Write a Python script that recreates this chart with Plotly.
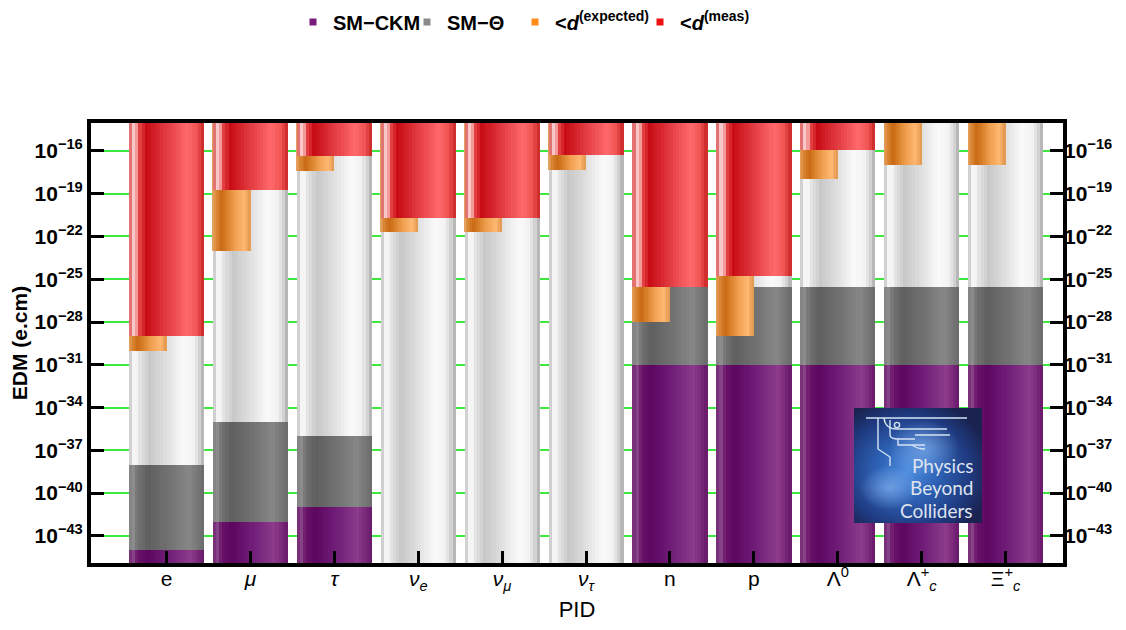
import base64
import plotly.graph_objects as go

# ---------------- data ----------------
categories = ["e", "mu", "tau", "nu_e", "nu_mu", "nu_tau", "n", "p", "Lambda0", "Lambda_c+", "Xi_c+"]
tick_labels = ["e", "<i>μ</i>", "<i>τ</i>", "<i>ν</i><sub><i>e</i></sub>", "<i>ν</i><sub><i>μ</i></sub>",
               "<i>ν</i><sub><i>τ</i></sub>", "n", "p", "Λ<sup>0</sup>", "Λ<sup>+</sup><sub><i>c</i></sub>",
               "Ξ<sup>+</sup><sub><i>c</i></sub>"]
sm_ckm = [1e-44, 1e-42, 1e-41, None, None, None, 1e-31, 1e-31, 1e-31, 1e-31, 1e-31]
sm_theta = [1e-38, 1e-35, 1e-36, None, None, None, 3e-26, 3e-26, 3e-26, 3e-26, 3e-26]
d_meas = [1.1e-29, 1.8e-19, 4.5e-17, 2.1e-21, 2.1e-21, 5.2e-17, 3e-26, 1.8e-25, 1.2e-16, None, None]
d_expected = [1e-30, 1e-23, 4e-18, 2.1e-22, 2.1e-22, 4.7e-18, 1e-28, 1e-29, 1e-18, 1e-17, 1e-17]
ytick_vals = [1e-16, 1e-19, 1e-22, 1e-25, 1e-28, 1e-31, 1e-34, 1e-37, 1e-40, 1e-43]
ytick_text = ["<b>10<sup>−%d</sup></b>" % e for e in [16, 19, 22, 25, 28, 31, 34, 37, 40, 43]]
legend_names = ["<b>SM−CKM</b>", "<b>SM−Θ</b>", "<b>&lt;<i>d</i><sup>(expected)</sup></b>",
                "<b>&lt;<i>d</i><sup>(meas)</sup></b>"]

# ---------------- style ----------------
PAGE_OFF = 8                          # default body margin of the html page
Y_LOW, Y_HIGH = 1e-47, 1e-12          # bar extents beyond the visible range
YRANGE = [-44.9, -14.04]
XRANGE = [-0.9, 10.685]
BAR_W = 0.894
NSTRIP = 24
FONT = "Liberation Sans, Arial, sans-serif"
legend_colors = ["#7a1a7a", "#8a8a8a", "#ff8c1a", "#ee1111"]
legend_text_x = [333, 447, 555, 680]   # pixel position of each legend label

silver = [(0, "#b0b0b0"), (0.035, "#e6e6e6"), (0.08, "#ffffff"), (0.14, "#e4e4e4"), (0.27, "#c8c8c8"),
          (0.5, "#e0e0e0"), (0.72, "#fafafa"), (0.86, "#f2f2f2"), (0.95, "#cdcdcd"), (1, "#a8a8a8")]
red = [(0, "#d03838"), (0.035, "#f09a9a"), (0.08, "#ffe4e4"), (0.13, "#e84848"), (0.23, "#c80c16"),
       (0.5, "#e23c42"), (0.78, "#ff6a6c"), (0.9, "#f25454"), (1, "#c82424")]
orange = [(0, "#e8a868"), (0.08, "#dc8a3c"), (0.25, "#c96a12"), (0.6, "#f0a050"), (0.85, "#ffb872"), (1, "#e2964e")]
grey = [(0, "#7c7c7c"), (0.05, "#929292"), (0.12, "#727272"), (0.25, "#5f5f5f"), (0.55, "#737373"),
        (0.8, "#878787"), (1, "#6a6a6a")]
purple = [(0, "#6c1c6c"), (0.05, "#8c4c8c"), (0.12, "#6a126a"), (0.25, "#5c0660"), (0.55, "#72207a"),
          (0.82, "#8c3c8a"), (1, "#681868")]


def hex2rgb(h):
    h = h.lstrip("#")
    return tuple(int(h[i:i + 2], 16) for i in (0, 2, 4))


def shade(stops, t):
    for (t0, c0), (t1, c1) in zip(stops[:-1], stops[1:]):
        if t0 <= t <= t1:
            a = (t - t0) / (t1 - t0) if t1 > t0 else 0
            r0, r1 = hex2rgb(c0), hex2rgb(c1)
            return "rgb(%d,%d,%d)" % tuple(round(r0[i] + (r1[i] - r0[i]) * a) for i in range(3))
    return stops[-1][1]


fig = go.Figure()


def add_layer(lengths, bases, stops, width_frac=1.0):
    w_total = BAR_W * width_frac
    sw = w_total / NSTRIP
    for k in range(NSTRIP):
        t = (k + 0.5) / NSTRIP
        fig.add_trace(go.Bar(
            x=categories, y=lengths, base=bases,
            width=sw * 1.06, offset=-BAR_W / 2 + k * sw,
            marker=dict(color=shade(stops, t), line=dict(width=0)),
            showlegend=False, hoverinfo="skip"))


n = len(categories)
add_layer([Y_HIGH - Y_LOW] * n, [Y_LOW] * n, silver)
add_layer([None if v is None else v - Y_LOW for v in sm_theta],
          [None if v is None else Y_LOW for v in sm_theta], grey)
add_layer([None if v is None else v - Y_LOW for v in sm_ckm],
          [None if v is None else Y_LOW for v in sm_ckm], purple)
add_layer([None if v is None else Y_HIGH - v for v in d_expected], d_expected, orange, width_frac=0.5)
add_layer([None if v is None else Y_HIGH - v for v in d_meas], d_meas, red)

# legend proxies, each in its own legend so positions can follow the reference
legend_ids = ["legend", "legend2", "legend3", "legend4"]
for name, col, lid in zip(legend_names, legend_colors, legend_ids):
    fig.add_trace(go.Scatter(x=[None], y=[None], mode="markers", name=name, legend=lid,
                             marker=dict(symbol="square", size=7, color=col)))

fig.add_trace(go.Scatter(x=[categories[0]], y=[1e-20], yaxis="y2", mode="markers",
                         marker=dict(opacity=0), showlegend=False, hoverinfo="skip"))

axis_common = dict(type="log", range=YRANGE, tickvals=ytick_vals, ticktext=ytick_text,
                   ticks="inside", ticklen=13, tickwidth=3, tickcolor="black", automargin=False,
                   tickfont=dict(family=FONT, size=21, color="black"))

legend_layout = {}
for lid, tx in zip(legend_ids, legend_text_x):
    legend_layout[lid] = dict(orientation="h", xref="container", yref="container",
                              x=(tx - PAGE_OFF - 40) / 1126, y=1 - 14 / 630, xanchor="left", yanchor="middle",
                              font=dict(family=FONT, size=20, color="black"),
                              itemwidth=30, bgcolor="rgba(0,0,0,0)", borderwidth=0)

fig.update_layout(
    width=1126, height=630,
    margin=dict(l=91 - PAGE_OFF, r=63 + PAGE_OFF, t=123 - PAGE_OFF, b=67 + PAGE_OFF, autoexpand=False),
    paper_bgcolor="white", plot_bgcolor="white",
    barmode="overlay", bargap=0,
    font=dict(family=FONT, color="black"),
    xaxis=dict(range=XRANGE, tickvals=categories, ticktext=tick_labels, automargin=False,
               ticks="inside", ticklen=12, tickwidth=3, tickcolor="black", ticklabelstandoff=-6,
               showline=True, linewidth=4, linecolor="black", mirror=True,
               showgrid=False, zeroline=False,
               tickfont=dict(family=FONT, size=21, color="black"),
               title=dict(text="PID", font=dict(family=FONT, size=22, color="black"), standoff=10)),
    yaxis=dict(**axis_common, showline=True, linewidth=4, linecolor="black", mirror=True,
               showgrid=True, gridcolor="#3ee83e", gridwidth=2, zeroline=False,
               title=dict(text="<b>EDM (e.cm)</b>", font=dict(family=FONT, size=21, color="black"), standoff=4)),
    yaxis2=dict(**axis_common, overlaying="y", side="right", showgrid=False, zeroline=False,
                showline=False),
    **legend_layout,
)

# ---------------- Physics Beyond Colliders logo ----------------
svg = """<svg xmlns='http://www.w3.org/2000/svg' width='128' height='115' viewBox='0 0 128 115'>
<defs><radialGradient id='g' cx='0.42' cy='0.55' r='0.65'>
<stop offset='0' stop-color='#4f8fe0'/><stop offset='0.35' stop-color='#2f64b8'/>
<stop offset='0.75' stop-color='#1f3a80'/><stop offset='1' stop-color='#1a2350'/></radialGradient>
<radialGradient id='h' cx='0.5' cy='0.5' r='0.5'><stop offset='0' stop-color='#9cc8ff' stop-opacity='0.55'/>
<stop offset='1' stop-color='#9cc8ff' stop-opacity='0'/></radialGradient></defs>
<rect width='128' height='115' fill='url(#g)'/>
<ellipse cx='70' cy='40' rx='35' ry='28' fill='url(#h)'/>
<ellipse cx='35' cy='80' rx='30' ry='22' fill='url(#h)'/>
<g stroke='#d4e4f4' stroke-width='1.4' fill='none'>
<path d='M12 10 H113'/>
<path d='M24 10 V41 L36 49 V58'/>
<path d='M30 10 C31 20 38 21 43 21 H93'/>
<circle cx='43' cy='17' r='2.6'/>
<path d='M36 12 V27 C36 30 40 31 45 31 H61 M61 27 H96'/>
<path d='M44 31 V37 H71 M58 37 C62 40 66 41 71 41'/>
</g></svg>"""
src = "data:image/svg+xml;base64," + base64.b64encode(svg.encode()).decode()


def px_x(p):
    return (p - 91) / 972


def px_y(p):
    return (563 - p) / 440


fig.add_layout_image(dict(source=src, xref="paper", yref="paper", x=px_x(854), y=px_y(408),
                          sizex=px_x(982) - px_x(854), sizey=px_y(408) - px_y(523),
                          xanchor="left", yanchor="top", sizing="stretch", layer="above"))
for word, py in [("Physics", 465), ("Beyond", 487), ("Colliders", 510)]:
    fig.add_annotation(text=word, xref="paper", yref="paper", x=px_x(975), y=px_y(py),
                       xanchor="right", yanchor="middle", showarrow=False,
                       font=dict(family="Lato, DejaVu Sans, sans-serif", size=19, color="#dfe4ef"))

fig.write_html("out.html")
